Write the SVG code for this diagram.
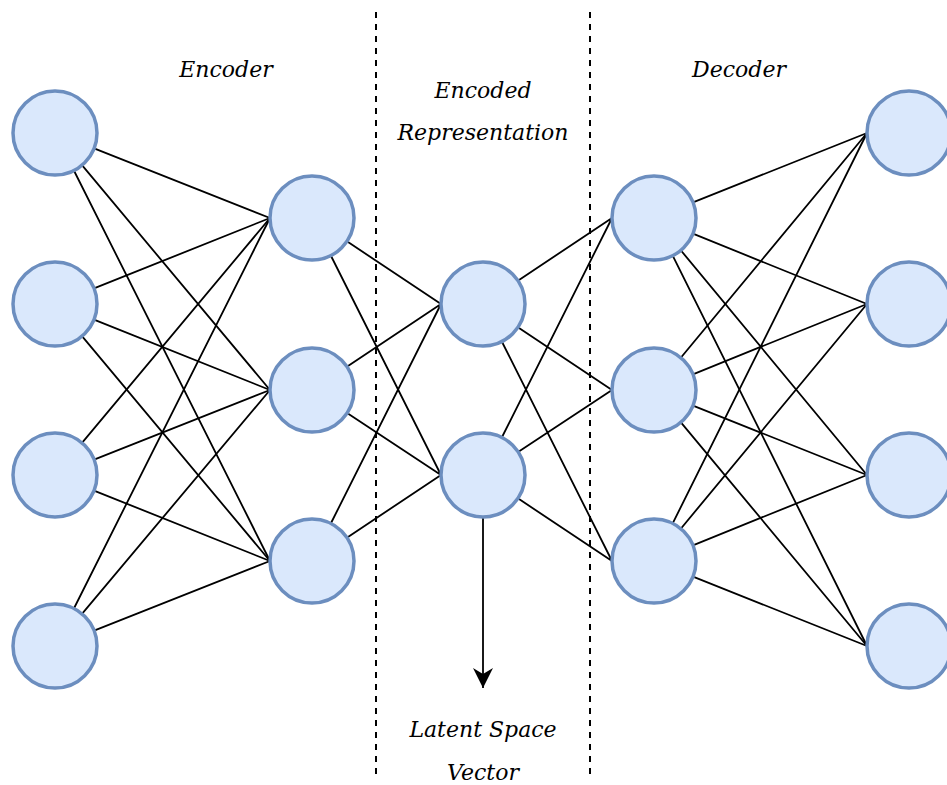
<svg xmlns="http://www.w3.org/2000/svg" width="947" height="785" viewBox="0 0 947 785">
<style>
.node{fill:#dae8fc;stroke:#6c8ebf;stroke-width:3.5}
.edge{stroke:#000;stroke-width:1.8;fill:none}
.dash{stroke:#000;stroke-width:2;stroke-dasharray:6 6;fill:none}
.lbl{font-family:"DejaVu Serif",serif;font-style:italic;font-size:22px;fill:#000;text-anchor:middle}
</style>
<defs>
<marker id="arr" markerUnits="userSpaceOnUse" markerWidth="22" markerHeight="22" refX="20" refY="10" orient="auto" viewBox="0 0 22 20">
<path d="M20 10 L0 0 L6 10 L0 20 Z" fill="#000"/>
</marker>
</defs>
<rect width="947" height="785" fill="#fff"/>
<g id="connectors">
<path class="edge" d="M94.1 148.4L270 218M82 165.2L270 390M73.9 170.5L270 561"/>
<path class="edge" d="M94 288.4L270 218M94 319.6L270 390M82 336.2L270 561"/>
<path class="edge" d="M82 442.8L270 218M94.1 459.6L270 390M94 490.6L270 561"/>
<path class="edge" d="M73.9 608.5L270 218M82 613.8L270 390M94.1 630.6L270 561"/>
<path class="edge" d="M346.9 241.3L441 304M330.8 255.5L441 475M346.9 366.7L441 304M347.1 413.1L441 475M330.8 523.5L441 304M346.9 537.7L441 475"/>
<path class="edge" d="M517.9 280.7L612 218M517.9 327.3L612 390M501.8 341.5L612 561M501.8 437.5L612 218M518.1 451.9L612 390M517.9 498.3L612 561"/>
<path class="edge" d="M693 202.4L867 133M692.9 233.7L867 304M680.8 250.3L867 475M672.7 255.6L867 646"/>
<path class="edge" d="M680.8 357.7L867 133M692.9 374.3L867 304M693 405.6L867 475M680.9 422.3L867 646"/>
<path class="edge" d="M672.7 523.4L867 133M680.8 528.7L867 304M692.9 545.3L867 475M693 576.6L867 646"/>
<path class="dash" d="M376 12V775"/>
<path class="dash" d="M590 12V775"/>
<path class="edge" d="M483 518V688" marker-end="url(#arr)"/>
</g>
<g id="encoder-input">
<circle id="n1a" class="node" cx="55" cy="133" r="42"/>
<circle id="n1b" class="node" cx="55" cy="304" r="42"/>
<circle id="n1c" class="node" cx="55" cy="475" r="42"/>
<circle id="n1d" class="node" cx="55" cy="646" r="42"/>
</g>
<g id="encoder-hidden">
<circle id="n2a" class="node" cx="312" cy="218" r="42"/>
<circle id="n2b" class="node" cx="312" cy="390" r="42"/>
<circle id="n2c" class="node" cx="312" cy="561" r="42"/>
</g>
<g id="latent">
<circle id="n3a" class="node" cx="483" cy="304" r="42"/>
<circle id="n3b" class="node" cx="483" cy="475" r="42"/>
</g>
<g id="decoder-hidden">
<circle id="n4a" class="node" cx="654" cy="218" r="42"/>
<circle id="n4b" class="node" cx="654" cy="390" r="42"/>
<circle id="n4c" class="node" cx="654" cy="561" r="42"/>
</g>
<g id="decoder-output">
<circle id="n5a" class="node" cx="909" cy="133" r="42"/>
<circle id="n5b" class="node" cx="909" cy="304" r="42"/>
<circle id="n5c" class="node" cx="909" cy="475" r="42"/>
<circle id="n5d" class="node" cx="909" cy="646" r="42"/>
</g>
<g id="labels">
<text class="lbl" x="226" y="77">Encoder</text>
<text class="lbl" x="483" y="98">Encoded</text>
<text class="lbl" x="483" y="140">Representation</text>
<text class="lbl" x="739" y="77">Decoder</text>
<text class="lbl" x="483" y="737">Latent Space</text>
<text class="lbl" x="483" y="780">Vector</text>
</g>
</svg>
